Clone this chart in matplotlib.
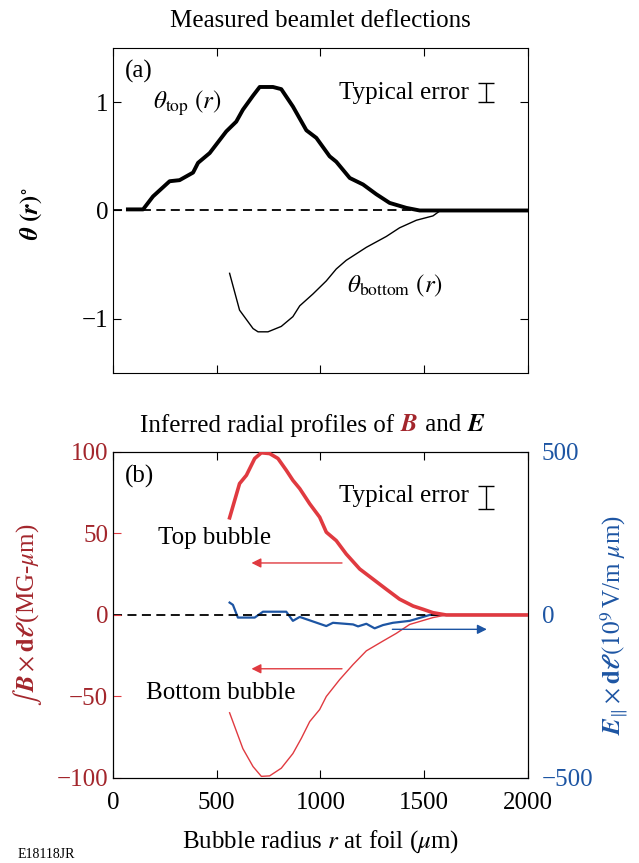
import numpy as np
import matplotlib
matplotlib.use('Agg')
import matplotlib.pyplot as plt

plt.rcParams['font.family'] = ['Liberation Serif', 'DejaVu Serif']
plt.rcParams['mathtext.fontset'] = 'stix'

# (a) beamlet deflections, degrees
top_r = [72, 145, 193, 273, 321, 386, 410, 466, 546, 594, 626, 675, 707, 771, 811, 867,
         932, 980, 1044, 1076, 1141, 1205, 1269, 1333, 1414, 1478, 2000]
top_theta = [0.01, 0.01, 0.13, 0.27, 0.28, 0.35, 0.44, 0.53, 0.73, 0.82, 0.93, 1.06, 1.14, 1.14,
             1.12, 0.96, 0.74, 0.67, 0.50, 0.45, 0.30, 0.24, 0.15, 0.07, 0.024, 0.0, 0.0]
bot_r = [562, 610, 675, 699, 747, 811, 867, 900, 964, 1028, 1076, 1124, 1221, 1317, 1381,
         1462, 1542, 1574, 2000]
bot_theta = [-0.58, -0.92, -1.09, -1.12, -1.12, -1.07, -0.98, -0.88, -0.77, -0.65, -0.54,
             -0.46, -0.34, -0.24, -0.16, -0.09, -0.05, -0.006, 0.0]

# (b) path-integrated B (MG-um) and E (1e9 V/m um)
btop_r = [562, 610, 643, 683, 715, 755, 795, 835, 867, 900, 948, 996, 1028, 1076, 1124, 1189,
          1253, 1317, 1381, 1446, 1494, 1542, 1606, 2000]
btop = [59.6, 80.6, 85.7, 96, 99.5, 99, 96, 88.8, 82.6, 77.5, 68.2, 60, 50.8, 45.6, 37.4, 28.2,
        22, 15.8, 9.7, 5.5, 3.5, 1.4, 0, 0]
bbot_r = [562, 626, 675, 715, 755, 811, 867, 908, 948, 996, 1028, 1092, 1157, 1221, 1301, 1365,
          1430, 1542, 1606, 2000]
bbot = [-60, -82, -93, -99, -98.7, -94, -85, -75.6, -65.4, -58, -50, -39.7, -30.4, -22, -16,
        -11.3, -5.8, -1.6, 0, 0]
e_r = [562, 578, 602, 683, 723, 835, 867, 900, 932, 1028, 1060, 1157, 1181, 1221, 1261, 1301,
       1349, 1430, 1526, 2000]
e_par = [38, 31, -8, -8, 10, 10, -18, -6, -13, -34, -24, -29, -35, -27, -41, -31, -24, -18, 0, 0]

red = '#e03a40'
darkred = '#a3262c'
blue = '#1d55a3'
fs = 18

fig = plt.figure(figsize=(6.39, 8.63), dpi=100)
ax1 = fig.add_axes([0.1768, 0.5678, 0.6495, 0.3766])
ax = fig.add_axes([0.1768, 0.0985, 0.6495, 0.3778])

for a in (ax1, ax):
    a.set_xlim(0, 2000)
    a.set_xticks([0, 500, 1000, 1500, 2000])
    a.tick_params(direction='in', length=6, top=True, labelsize=fs)
    a.axhline(0, color='black', lw=1.3, ls=(0, (5, 3)), zorder=1)

# top panel
ax1.set_ylim(-1.5, 1.5)
ax1.set_yticks([-1, 0, 1])
ax1.set_yticklabels(['\u22121', '0', '1'])
ax1.tick_params(right=True, labelbottom=False)
ax1.plot(top_r, top_theta, color='black', lw=2.8, zorder=3)
ax1.plot(bot_r, bot_theta, color='black', lw=1.0, zorder=3)
ax1.set_ylabel(r'$\boldsymbol{\theta\ (r)}^{\circ}$', fontsize=fs)
ax1.yaxis.set_label_coords(-0.165, 0.49)
ax1.set_title('Measured beamlet deflections', fontsize=fs, pad=15)
ax1.text(55, 1.28, '(a)', fontsize=fs, va='center')
ax1.text(193, 0.99, r'$\theta_{\rm top}\ (r)$', fontsize=fs, va='center')
ax1.text(1128, -0.70, r'$\theta_{\rm bottom}\ (r)$', fontsize=fs, va='center')
ax1.text(1715, 1.08, 'Typical error', fontsize=fs, va='center', ha='right')
ax1.errorbar([1798], [1.087], yerr=[0.087], color='black', lw=1, capsize=6, capthick=1)

# bottom panel
ax2 = ax.twinx()
ax.set_zorder(ax2.get_zorder() + 1)
ax.patch.set_visible(False)
ax.set_ylim(-100, 100)
ax.set_yticks([-100, -50, 0, 50, 100])
ax.set_yticklabels(['\u2212100', '\u221250', '0', '50', '100'])
ax.set_xticklabels(['0', '500', '1000', '1500', '2000'])
ax.tick_params(axis='y', colors=red, labelcolor=darkred, right=False)
ax.tick_params(axis='x', pad=10)
ax2.set_ylim(-500, 500)
ax2.set_yticks([-500, 0, 500])
ax2.set_yticklabels(['\u2212500', '0', '500'])
ax2.tick_params(axis='y', direction='in', length=6, colors=blue, labelcolor=blue,
                labelsize=fs, pad=10)

ax2.plot(e_r, e_par, color=blue, lw=1.6)
ax.plot(btop_r, btop, color=red, lw=2.6, zorder=3)
ax.plot(bbot_r, bbot, color=red, lw=1.0, zorder=3)

arrow = dict(arrowstyle='-|>', color=red, lw=1.0, mutation_scale=14)
ax.annotate('', xy=(654, 31.9), xytext=(1117, 31.9), arrowprops=arrow)
ax.annotate('', xy=(654, -33), xytext=(1117, -33), arrowprops=arrow)
ax.annotate('', xy=(1815, -8.8), xytext=(1333, -8.8),
            arrowprops=dict(arrowstyle='-|>', color=blue, lw=1.0, mutation_scale=14))

ax.text(58, 85, '(b)', fontsize=fs, va='center')
ax.text(217, 47, 'Top bubble', fontsize=fs, va='center')
ax.text(159, -48, 'Bottom bubble', fontsize=fs, va='center')
ax.text(1715, 73, 'Typical error', fontsize=fs, va='center', ha='right')
ax.errorbar([1798], [72], yerr=[7], color='black', lw=1, capsize=6, capthick=1)

ax.set_xlabel(r'Bubble radius $r$ at foil ($\mu$m)', fontsize=fs, labelpad=10)
ax.set_ylabel(r'$\int\,\boldsymbol{B}\times\mathbf{d}\boldsymbol{\ell}\,$(MG-$\mu$m)',
              fontsize=fs, color=darkred)
ax.yaxis.set_label_coords(-0.165, 0.5)
ax2.set_ylabel(r'$\boldsymbol{E}_{\Vert}\times\mathbf{d}\boldsymbol{\ell}\,(10^9\,$V/m $\mu$m)',
               fontsize=fs, color=blue)
ax2.yaxis.set_label_coords(1.17, 0.47)

# two-colour title
t1 = fig.text(0.219, 0.507, 'Inferred radial profiles of ', fontsize=fs, va='center')
t2 = ax.annotate(r'$\boldsymbol{B}$', xy=(1, 0.5), xycoords=t1, va='center', fontsize=fs,
                 color=darkred)
t3 = ax.annotate(' and ', xy=(1, 0.5), xycoords=t2, va='center', fontsize=fs)
ax.annotate(r'$\boldsymbol{E}$', xy=(1, 0.5), xycoords=t3, va='center', fontsize=fs)

fig.text(0.027, 0.006, 'E18118JR', fontsize=10)

fig.savefig('out.png', dpi=100)
